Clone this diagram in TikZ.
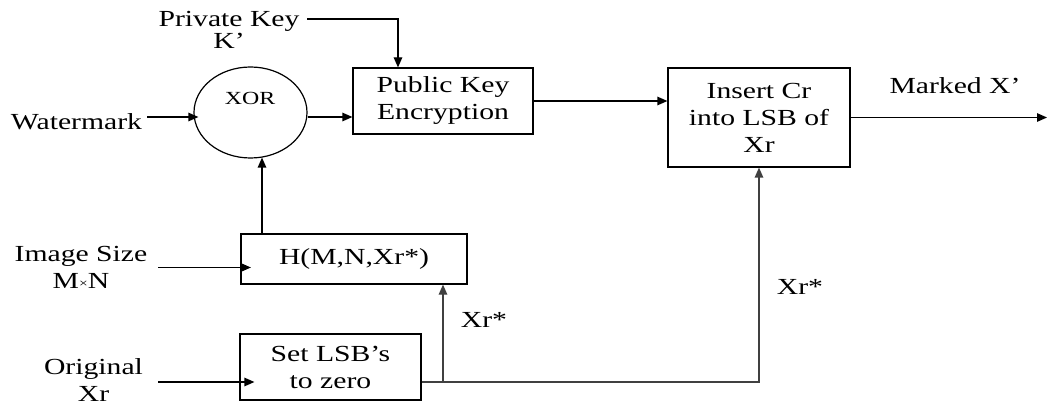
\documentclass[tikz,border=0pt]{standalone}
\usepackage{fontspec}
\setmainfont{Liberation Serif}[FakeStretch=1.29]
\usetikzlibrary{arrows.meta,shapes.geometric,calc}
\begin{document}
\begin{tikzpicture}[x=1pt,y=-1pt,
  every node/.style={font=\fontsize{23}{27}\selectfont, inner sep=0pt, align=center},
  block/.style={draw, line width=1.2pt},
  arr/.style={line width=1.2pt, -{Triangle[length=10pt,width=8.5pt]}},
  feed/.style={arr, draw=black!75},
  smalltext/.style={font=\fontsize{18.5}{20}\selectfont}]
\useasboundingbox (0,0) rectangle (1047,406);

% inputs
\node (priv) at (229,30) {Private Key\\[-5pt]K’};
\node (wm)   at (76.5,122) {Watermark};
\node (img)  at (81,267.5) {Image Size\\M{\raisebox{1.5pt}{\fontsize{12}{12}\selectfont ×}}N};
\node (orig) at (93.5,380) {Original\\Xr};

% processing blocks
\node[draw, ellipse, line width=1.2pt, minimum width=113pt, minimum height=91pt] (xor) at (250.5,112.5) {};
\node[smalltext] (xorlbl) at (250,98) {XOR};
\node[block, minimum width=180pt, minimum height=66pt] (pke) at (443,101) {Public Key\\Encryption};
\node[block, minimum width=182pt, minimum height=99pt] (ins) at (759,117.5) {Insert Cr\\into LSB of\\Xr};
\node[block, minimum width=226pt, minimum height=50pt] (H) at (354,259) {H(M,N,Xr*)};
\node[block, minimum width=181pt, minimum height=66pt] (set) at (330.5,367) {Set LSB’s\\to zero};

% output
\node (mark) at (955,86) {Marked X’};
\coordinate (out) at (1047,117.5);

% bottom branch point
\coordinate (split) at (443,382);

% connectors
\draw[arr] ([xshift=7.5pt,yshift=11pt]priv.east) -| ([xshift=-45pt]pke.north);
\draw[arr] ([xshift=5pt,yshift=5pt]wm.east) -- ([xshift=5pt,yshift=5pt]wm.east -| xor.west);
\draw[arr] ([yshift=-4.5pt]xor.east) -- ([yshift=-4.5pt]xor.east -| pke.west);
\draw[arr] (pke.east) -- (pke.east -| ins.west);
\draw[arr] (ins.east) -- (out);
\draw[arr] ([xshift=-92pt]H.north) -- ([xshift=-92pt,yshift=1pt]H.north |- xor.south);
\draw[arr] ([xshift=10.5pt]img.east) -- ([xshift=10.5pt]img.east -| H.west);
\draw[arr] ([xshift=15pt,yshift=-2pt]orig.east) -- ([xshift=15pt,yshift=-2pt]orig.east -| set.west);
\draw[feed] ([yshift=-15pt]set.east) -| (ins.south);
\draw[feed] (split) -- (split |- H.south);

% labels on the Xr* lines
\node (xr1) at (484,320) {Xr*};
\node (xr2) at (800,287) {Xr*};
\end{tikzpicture}
\end{document}
